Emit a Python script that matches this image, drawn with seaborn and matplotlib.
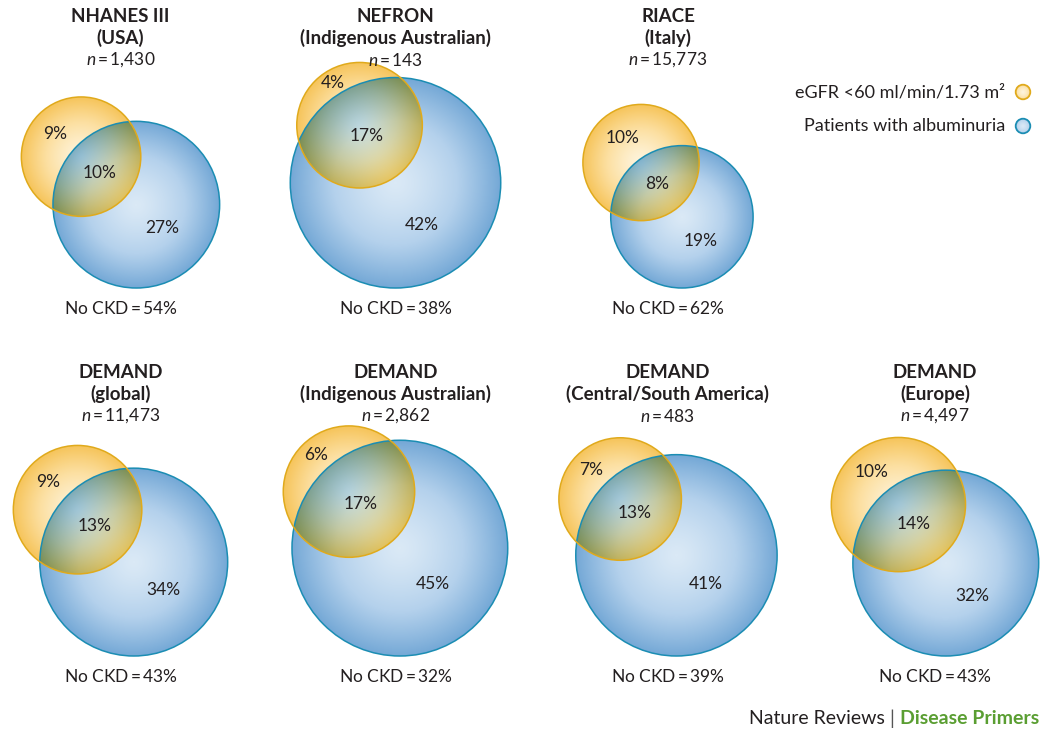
import numpy as np
import matplotlib
matplotlib.use("Agg")
import matplotlib.pyplot as plt
import seaborn as sns
from matplotlib.patches import Circle

sns.set_theme(style="white")
plt.rcParams['font.family'] = ['Lato', 'DejaVu Sans']
plt.rcParams['mathtext.fontset'] = 'custom'
plt.rcParams['mathtext.rm'] = 'Lato'
plt.rcParams['mathtext.it'] = 'Lato:italic'

# Data: CKD prevalence by cohort (% of patients)
studies = ["NHANES III", "NEFRON", "RIACE", "DEMAND", "DEMAND", "DEMAND", "DEMAND"]
regions = ["(USA)", "(Indigenous Australian)", "(Italy)", "(global)",
           "(Indigenous Australian)", "(Central/South America)", "(Europe)"]
n_sizes = ["1,430", "143", "15,773", "11,473", "2,862", "483", "4,497"]
egfr_only = [9, 4, 10, 9, 6, 7, 10]
both = [10, 17, 8, 13, 17, 13, 14]
alb_only = [27, 42, 19, 34, 45, 41, 32]
no_ckd = [54, 38, 62, 43, 32, 39, 43]
legend_labels = ["eGFR <60 ml/min/1.73 m\u00b2", "Patients with albuminuria"]

# Layout (pixels)
W, H = 1050, 739
grid_pos = [(0, 0), (0, 1), (0, 2), (1, 0), (1, 1), (1, 2), (1, 3)]
col_x = [120.5, 395.5, 668, 935]
title_y = [16, 372]
base_y = [288, 656]
tilt = [41, 58, 53, 43, 48, 45, 51]
px_scale = 13.7
text_col = '#231f20'

yellow_cmap = sns.blend_palette(['#fef4dc', '#fcdfa0', '#f6c45a'], as_cmap=True)
blue_cmap = sns.blend_palette(['#dae9f6', '#b4d1ec', '#74a8d6'], as_cmap=True)
yellow_edge = '#e0aa1c'
blue_edge = '#1b8db3'


def lens_area(d, r1, r2):
    if d >= r1 + r2:
        return 0.0
    if d <= abs(r1 - r2):
        return np.pi * min(r1, r2) ** 2
    a1 = r1 ** 2 * np.arccos((d * d + r1 * r1 - r2 * r2) / (2 * d * r1))
    a2 = r2 ** 2 * np.arccos((d * d + r2 * r2 - r1 * r1) / (2 * d * r2))
    tri = 0.5 * np.sqrt((-d + r1 + r2) * (d + r1 - r2) * (d - r1 + r2) * (d + r1 + r2))
    return a1 + a2 - tri


def centre_gap(r1, r2, area):
    lo, hi = abs(r1 - r2), r1 + r2
    for _ in range(60):
        mid = (lo + hi) / 2
        if lens_area(mid, r1, r2) > area:
            lo = mid
        else:
            hi = mid
    return lo


def shade(cmap, xx, yy, cx, cy, r):
    dist = np.hypot(xx - cx, yy - cy) / r
    return dist <= 1, cmap(np.clip(dist, 0, 1) ** 1.3)[..., :3]


fig = plt.figure(figsize=(W / 100, H / 100), dpi=100)
ax = fig.add_axes([0, 0, 1, 1])
ax.set_xlim(0, W)
ax.set_ylim(H, 0)
ax.axis('off')

yy, xx = np.mgrid[0:H, 0:W] + 0.5
img = np.ones((H, W, 3))

for i, (row, col) in enumerate(grid_pos):
    rY = px_scale * np.sqrt(egfr_only[i] + both[i])
    rB = px_scale * np.sqrt(alb_only[i] + both[i])
    d = centre_gap(rY, rB, np.pi * px_scale ** 2 * both[i])
    a = np.deg2rad(tilt[i])
    u = np.array([np.cos(a), np.sin(a)])
    Y = np.array([0.0, 0.0])
    B = d * u
    left = min(Y[0] - rY, B[0] - rB)
    right = max(Y[0] + rY, B[0] + rB)
    shift = np.array([col_x[col] - (left + right) / 2, base_y[row] - (B[1] + rB)])
    Y = Y + shift
    B = B + shift

    inB, cB = shade(blue_cmap, xx, yy, B[0], B[1], rB)
    inY, cY = shade(yellow_cmap, xx, yy, Y[0], Y[1], rY)
    img[inB] = cB[inB]
    onlyY = inY & ~inB
    img[onlyY] = cY[onlyY]
    lens = inY & inB
    img[lens] = cY[lens] * cB[lens] * 1.1

    ax.add_patch(Circle(B, rB, fill=False, ec=blue_edge, lw=1.1, zorder=2))
    ax.add_patch(Circle(Y, rY, fill=False, ec=yellow_edge, lw=1.1, zorder=3))

    # region labels
    p_y = ((Y - rY * u) + (B - rB * u)) / 2
    p_both = ((Y + rY * u) + (B - rB * u)) / 2
    p_b = ((Y + rY * u) + (B + rB * u)) / 2
    for p, v in [(p_y, egfr_only[i]), (p_both, both[i]), (p_b, alb_only[i])]:
        ax.text(p[0], p[1], f"{v}%", ha='center', va='center', fontsize=12.5,
                color=text_col, zorder=5)

    cx = col_x[col]
    ty = title_y[row]
    ax.text(cx, ty, studies[i], ha='center', va='center', fontsize=13.5,
            fontweight='bold', color=text_col)
    ax.text(cx, ty + 22, regions[i], ha='center', va='center', fontsize=13.5,
            fontweight='bold', color=text_col)
    ax.text(cx, ty + 44, f"$n$$\\,$=$\\,${n_sizes[i]}", ha='center', va='center',
            fontsize=12.5, color=text_col)
    ax.text(cx, base_y[row] + 20, f"No CKD$\\,$=$\\,${no_ckd[i]}%", ha='center',
            va='center', fontsize=12.5, color=text_col)

# legend
leg_x, leg_y, leg_r = 1023, [92, 126], 7.3
for lab, ly, cmap, ec in zip(legend_labels, leg_y, [yellow_cmap, blue_cmap],
                             [yellow_edge, blue_edge]):
    inside, c = shade(cmap, xx, yy, leg_x, ly, leg_r * 1.6)
    m = np.hypot(xx - leg_x, yy - ly) <= leg_r
    img[m] = c[m]
    ax.add_patch(Circle((leg_x, ly), leg_r, fill=False, ec=ec, lw=1.3, zorder=3))
    ax.text(1005, ly, lab, ha='right', va='center', fontsize=13, color=text_col)

ax.imshow(np.clip(img, 0, 1), extent=(0, W, H, 0), interpolation='bilinear', zorder=0)
ax.set_xlim(0, W)
ax.set_ylim(H, 0)

# footer
t1 = ax.text(1039, 719, "Disease Primers", ha='right', va='center', fontsize=14,
             fontweight='bold', color='#5a9e32')
t2 = ax.annotate(" | ", xy=(0, 0.5), xycoords=t1, ha='right', va='center',
                 fontsize=14, color='#555555')
ax.annotate("Nature Reviews", xy=(0, 0.5), xycoords=t2, ha='right', va='center',
            fontsize=14, color=text_col)

fig.savefig("out.png", dpi=100)
